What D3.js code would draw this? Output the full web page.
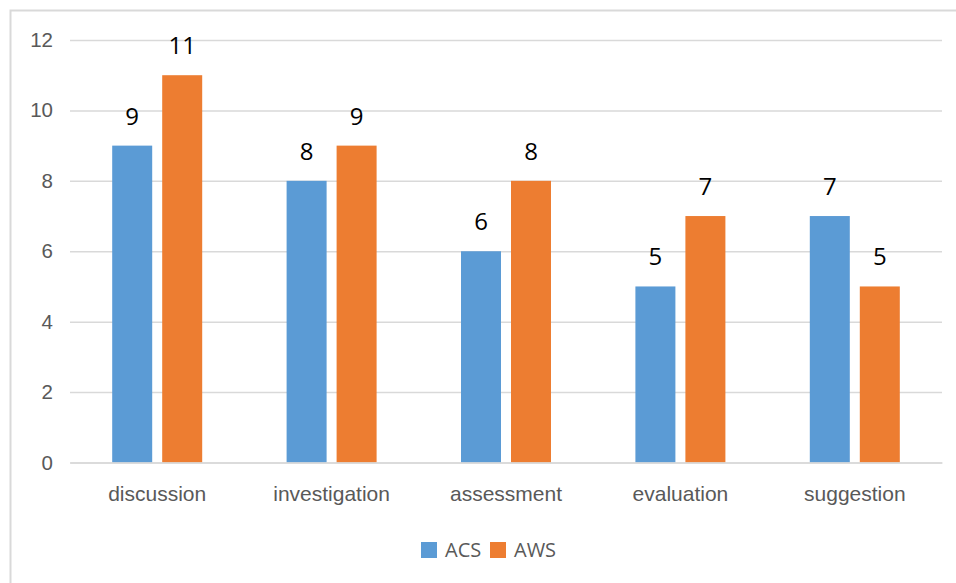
<!DOCTYPE html>
<html><head><meta charset="utf-8">
<script src="https://cdn.jsdelivr.net/npm/d3@7"></script>
<style>body{margin:0;background:#fff;} svg{display:block;font-family:"Open Sans",sans-serif;}</style>
</head><body>
<script>
const categories = ["discussion","investigation","assessment","evaluation","suggestion"];
const seriesNames = ["ACS","AWS"];
const acsValues = [9,8,6,5,7];
const awsValues = [11,9,8,7,5];
const yTicks = [0,2,4,6,8,10,12];
const colors = ["#5B9BD5","#ED7D31"];

const W=956,H=583;
const svg=d3.select("body").append("svg").attr("width",W).attr("height",H);
svg.append("rect").attr("x",10.5).attr("y",10.5).attr("width",W).attr("height",H).attr("fill","none").attr("stroke","#d9d9d9").attr("stroke-width",2);

const x0=d3.scaleBand().domain(categories).range([70,942]);
const x1=d3.scaleBand().domain(seriesNames).range([0,90]).paddingInner(0.2);
const y=d3.scaleLinear().domain([0,12]).range([462.5,40]);

const gy=svg.append("g").attr("transform","translate(70,0)")
  .call(d3.axisLeft(y).tickValues(yTicks).tickSize(-872).tickPadding(17).tickFormat(d3.format("d")));
gy.select(".domain").remove();
gy.selectAll(".tick line").attr("stroke","#d9d9d9").attr("stroke-width",1.5);
gy.selectAll(".tick text").attr("fill","#595959").attr("font-size",20.5);

const data=categories.map((c,i)=>({c,vals:[acsValues[i],awsValues[i]]}));
const g=svg.selectAll("g.cat").data(data).join("g").attr("class","cat")
  .attr("transform",d=>`translate(${x0(d.c)+x0.bandwidth()/2-45},0)`);
g.selectAll("rect").data(d=>d.vals.map((v,j)=>({v,s:seriesNames[j],j})))
  .join("rect").attr("x",d=>x1(d.s)).attr("width",x1.bandwidth())
  .attr("y",d=>y(d.v)).attr("height",d=>y(0)-y(d.v)).attr("fill",d=>colors[d.j]);
g.selectAll("text").data(d=>d.vals.map((v,j)=>({v,s:seriesNames[j],j})))
  .join("text").attr("x",d=>x1(d.s)+x1.bandwidth()/2).attr("y",d=>y(d.v)-21)
  .attr("text-anchor","middle").attr("font-size",24).attr("fill","#000").text(d=>d.v);

const gx=svg.append("g").attr("transform","translate(0,462.5)")
  .call(d3.axisBottom(x0).tickSize(0).tickPadding(24));
gx.select(".domain").attr("stroke","#d9d9d9").attr("stroke-width",1.5);
gx.selectAll(".tick text").attr("fill","#595959").attr("font-size",21);

const leg=svg.append("g");
const items=[{n:"ACS",x:421},{n:"AWS",x:490}];
items.forEach((it,i)=>{
  leg.append("rect").attr("x",it.x).attr("y",542).attr("width",16).attr("height",16).attr("fill",colors[i]);
  leg.append("text").attr("x",it.x+24).attr("y",557).attr("font-size",20).attr("fill","#595959").text(it.n);
});
</script>
</body></html>
